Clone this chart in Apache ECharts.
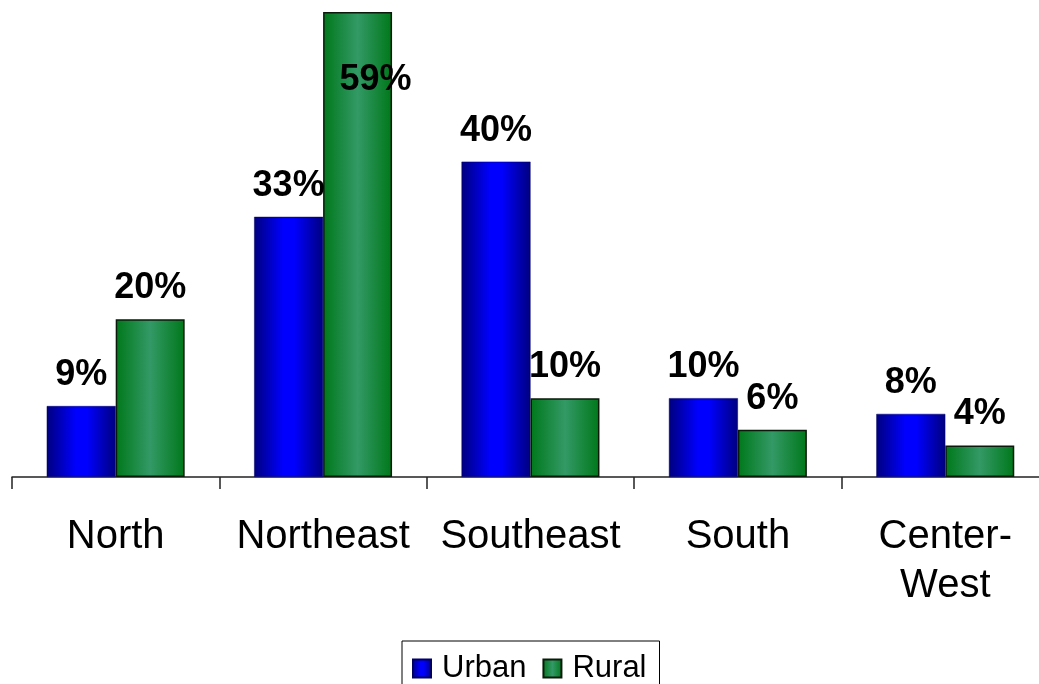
<!DOCTYPE html>
<html>
<head>
<meta charset="utf-8">
<title>Urban and Rural by Region</title>
<script src="https://cdn.jsdelivr.net/npm/echarts@6/dist/echarts.min.js"></script>
<style>
  html, body { margin: 0; padding: 0; background: #ffffff; }
  #chart { width: 1039px; height: 684px; }
</style>
</head>
<body>
<div id="chart"></div>
<script>
// Regions and shares (percent)
const regions = ['North', 'Northeast', 'Southeast', 'South', 'Center-\nWest'];
const urban = [9, 33, 40, 10, 8];
const rural = [20, 59, 10, 6, 4];

const FONT = '"Liberation Sans", Arial, sans-serif';

const blueFill = new echarts.graphic.LinearGradient(0, 0, 1, 0, [
  { offset: 0, color: '#000080' },
  { offset: 0.42, color: '#0000ff' },
  { offset: 0.58, color: '#0000ff' },
  { offset: 1, color: '#000080' }
]);
const greenFill = new echarts.graphic.LinearGradient(0, 0, 1, 0, [
  { offset: 0, color: '#00781a' },
  { offset: 0.5, color: '#339966' },
  { offset: 1, color: '#00781a' }
]);

const valueLabel = {
  show: true,
  position: 'top',
  distance: 13,
  formatter: '{c}%',
  fontFamily: FONT,
  fontWeight: 'bold',
  fontSize: 36,
  color: '#000000'
};

// The tallest bar has no room above it, so its label sits inside the top
function withLabels(values) {
  const top = Math.max(...urban, ...rural);
  return values.map(v => v === top
    ? { value: v, label: { offset: [18, 99] } }
    : v);
}

const chart = echarts.init(document.getElementById('chart'), null, { renderer: 'canvas' });
chart.setOption({
  animation: false,
  backgroundColor: '#ffffff',
  // plot runs a little past the right edge, so the last category is clipped
  grid: {
    left: 12, width: 1037, top: 4, height: 473,
    containLabel: false,
    outerBoundsMode: 'none'
  },
  xAxis: {
    type: 'category',
    data: regions,
    axisLine: { show: true, lineStyle: { color: '#222222', width: 1.5 } },
    axisTick: { show: true, length: 12, lineStyle: { color: '#222222', width: 1.5 } },
    axisLabel: {
      fontFamily: FONT,
      fontSize: 40,
      lineHeight: 49,
      color: '#000000',
      margin: 35,
      interval: 0
    }
  },
  yAxis: {
    type: 'value',
    min: 0,
    max: 60,
    show: false,
    splitLine: { show: false }
  },
  legend: {
    data: ['Urban', 'Rural'],
    left: 402,
    top: 641,
    orient: 'horizontal',
    borderColor: '#000000',
    borderWidth: 1,
    padding: [12, 13, 14, 10],
    itemWidth: 18,
    itemHeight: 18,
    itemGap: 16,
    icon: 'rect',
    textStyle: {
      fontFamily: FONT,
      fontSize: 31,
      color: '#000000',
      padding: [0, 0, 0, 6]
    }
  },
  series: [
    {
      name: 'Urban',
      type: 'bar',
      data: withLabels(urban),
      barCategoryGap: '33.5%',
      barGap: '0%',
      itemStyle: { color: blueFill, borderColor: '#000060', borderWidth: 0.5 },
      label: valueLabel
    },
    {
      name: 'Rural',
      type: 'bar',
      data: withLabels(rural),
      barCategoryGap: '33.5%',
      barGap: '0%',
      itemStyle: { color: greenFill, borderColor: '#0a1a0a', borderWidth: 1.5 },
      label: valueLabel
    }
  ]
});
</script>
</body>
</html>
